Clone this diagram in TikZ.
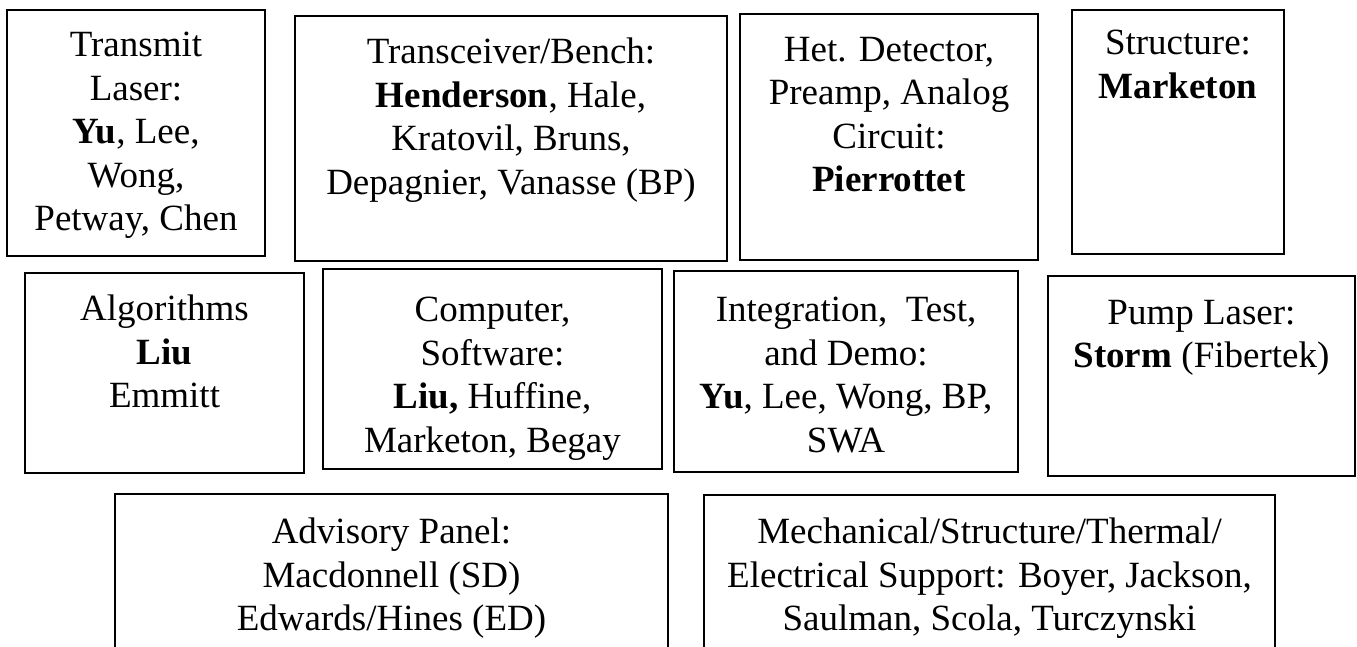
\documentclass[tikz,border=0pt]{standalone}
\usepackage{fontspec}
\setmainfont{Liberation Serif}
\begin{document}
\begin{tikzpicture}[x=1pt,y=-1pt,
  box/.style={draw=black,line width=1.6pt,fill=white},
  txt/.style={anchor=north,align=center,inner sep=0pt,
    font=\fontsize{37}{43.5}\selectfont}]
\useasboundingbox (0,0) rectangle (1357,646);
% team boxes, top row
\draw[box] (7,10) rectangle (265,256) coordinate (A);
\draw[box] (295,16) rectangle (727,261) coordinate (B);
\draw[box] (740,14) rectangle (1038,260) coordinate (C);
\draw[box] (1072,10) rectangle (1284,254) coordinate (D);
% middle row
\draw[box] (25,273) rectangle (304,473) coordinate (E);
\draw[box] (323,269) rectangle (662,469) coordinate (F);
\draw[box] (674,271) rectangle (1018,472) coordinate (G);
\draw[box] (1048,276) rectangle (1355,476) coordinate (H);
% bottom row (runs off the lower edge)
\draw[box] (115,494) rectangle (668,680) coordinate (I);
\draw[box] (704,495) rectangle (1275,680) coordinate (J);
% labels
\node[txt] (At) at (136,32) {Transmit\\Laser:\\\textbf{Yu}, Lee,\\Wong,\\Petway, Chen};
\node[txt] (Bt) at (511,38) {Transceiver/Bench:\\\textbf{Henderson}, Hale,\\Kratovil, Bruns,\\Depagnier, Vanasse (BP)};
\node[txt] (Ct) at (889,37) {Het. Detector,\\Preamp, Analog\\Circuit:\\\textbf{Pierrottet}};
\node[txt] (Dt) at (1178,30) {Structure:\\\textbf{Marketon}};
\node[txt] (Et) at (164.5,295) {Algorithms\\\textbf{Liu}\\Emmitt};
\node[txt] (Ft) at (492.5,297) {Computer,\\Software:\\\textbf{Liu,} Huffine,\\Marketon, Begay};
\node[txt] (Gt) at (846,297) {Integration,\ \ Test,\\and Demo:\\\textbf{Yu}, Lee, Wong, BP,\\SWA};
\node[txt] (Ht) at (1201.5,300) {Pump Laser:\\\textbf{Storm} (Fibertek)};
\node[txt] (It) at (391.5,518) {Advisory Panel:\\Macdonnell (SD)\\Edwards/Hines (ED)};
\node[txt] (Jt) at (989.5,518) {Mechanical/Structure/Thermal/\\Electrical Support: Boyer, Jackson,\\Saulman, Scola, Turczynski};
\end{tikzpicture}
\end{document}
